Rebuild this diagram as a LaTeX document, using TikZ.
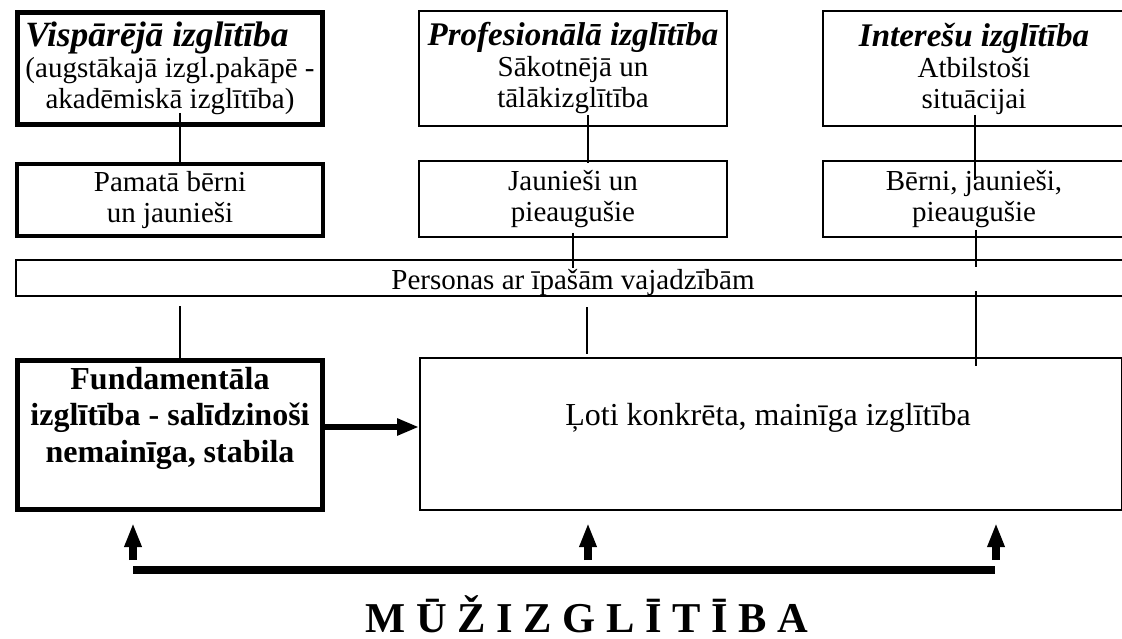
\documentclass[tikz,border=0pt]{standalone}
\usepackage{fontspec}
\setmainfont{Liberation Serif}
\usetikzlibrary{arrows.meta}
\begin{document}
\begin{tikzpicture}[x=1pt,y=-1pt,
  thinbox/.style={draw, line width=2pt, rectangle, inner sep=0pt, align=center, font=\fontsize{29}{31}\selectfont},
  thickbox/.style={thinbox, line width=5pt},
  midbox/.style={thinbox, line width=4pt},
  conn/.style={line width=2pt},
  uparrow/.style={line width=8pt, -{Triangle[length=24pt,width=16pt]}},
  sidearrow/.style={line width=6pt, -{Triangle[length=22pt,width=16pt]}}
]
\useasboundingbox (0,0) rectangle (1122,639);
\fill[white] (0,0) rectangle (1122,639);
\clip (0,0) rectangle (1122,639);

% top row
\node[thickbox, minimum width=305pt, minimum height=112pt] (visp) at (170,68.5)
  {{\fontsize{35.5}{31}\selectfont\bfseries\itshape Vispārējā izglītība\hspace*{26pt}}\\(augstākajā izgl.pakāpē -\\akadēmiskā izglītība)};
\node[thinbox, minimum width=308pt, minimum height=115pt] (prof) at (573,68.5)
  {{\fontsize{33}{31}\selectfont\bfseries\itshape Profesionālā izglītība}\\Sākotnējā un\\tālākizglītība};
\node[thinbox, minimum width=302pt, minimum height=115pt] (inter) at (974,68.5)
  {{\fontsize{33}{31}\selectfont\bfseries\itshape Interešu izglītība}\\Atbilstoši\\situācijai};

% second row
\node[midbox, minimum width=306pt, minimum height=72pt] (pam) at (170,200)
  {Pamatā bērni\\un jaunieši};
\node[thinbox, minimum width=308pt, minimum height=76pt] (jaun) at (573,199)
  {Jaunieši un\\pieaugušie};
\node[thinbox, minimum width=302pt, minimum height=76pt] (bern) at (974,199)
  {Bērni, jaunieši,\\pieaugušie};

% Personas
\node[thinbox, minimum width=1114pt, minimum height=36pt] (pers) at (573,278) {};
\node[font=\fontsize{29}{31}\selectfont, anchor=base] (perst) at (573,289) {Personas ar īpašām vajadzībām};

% bottom boxes
\node[thickbox, minimum width=305pt, minimum height=149pt] (fund) at (170,434.5) {};
\node[font=\fontsize{32}{36.5}\selectfont\bfseries, align=center, anchor=north, inner sep=0pt] (fundt) at (170,367)
  {Fundamentāla\\izglītība - salīdzinoši\\nemainīga, stabila};
\node[thinbox, minimum width=702pt, minimum height=152pt] (lot) at (771,434) {};
\node[font=\fontsize{32}{36}\selectfont, anchor=base, inner sep=0pt] (lott) at (768,425) {Ļoti konkrēta, mainīga izglītība};

% connectors
\coordinate (c1a) at (180,113);
\coordinate (c1b) at (180,163);
\draw[conn] (c1a) -- (c1b);
\coordinate (c2a) at (588,115);
\coordinate (c2b) at (588,163);
\draw[conn] (c2a) -- (c2b);
\coordinate (c3a) at (975,115);
\coordinate (c3b) at (975,180);
\draw[conn] (c3a) -- (c3b);

\coordinate (c4a) at (573,233);
\coordinate (c4b) at (573,268);
\draw[conn] (c4a) -- (c4b);
\coordinate (c5a) at (976,230);
\coordinate (c5b) at (976,267);
\draw[conn] (c5a) -- (c5b);

\coordinate (c6a) at (180,306);
\draw[conn] (c6a) -- (c6a |- fund.north);
\coordinate (c7a) at (587,307);
\coordinate (c7b) at (587,354);
\draw[conn] (c7a) -- (c7b);
\coordinate (c8a) at (976,291);
\coordinate (c8b) at (976,366);
\draw[conn] (c8a) -- (c8b);

% side arrow
\draw[sidearrow] ([yshift=7.5pt]fund.east) -- ([yshift=7pt]lot.west);

% up arrows and bar
\coordinate (u1b) at (133,560); \coordinate (u1t) at (133,523);
\coordinate (u2b) at (588,560); \coordinate (u2t) at (588,523);
\coordinate (u3b) at (996,560); \coordinate (u3t) at (996,523);
\draw[uparrow] (u1b) -- (u1t);
\draw[uparrow] (u2b) -- (u2t);
\draw[uparrow] (u3b) -- (u3t);
\coordinate (barl) at (133,570);
\coordinate (barr) at (995,570);
\draw[line width=8pt] (barl) -- (barr);

\node[font=\fontsize{42.5}{43}\selectfont\bfseries, anchor=base, inner sep=0pt] (title) at (587,632) {M Ū Ž I Z G L Ī T Ī B A};
\end{tikzpicture}
\end{document}
